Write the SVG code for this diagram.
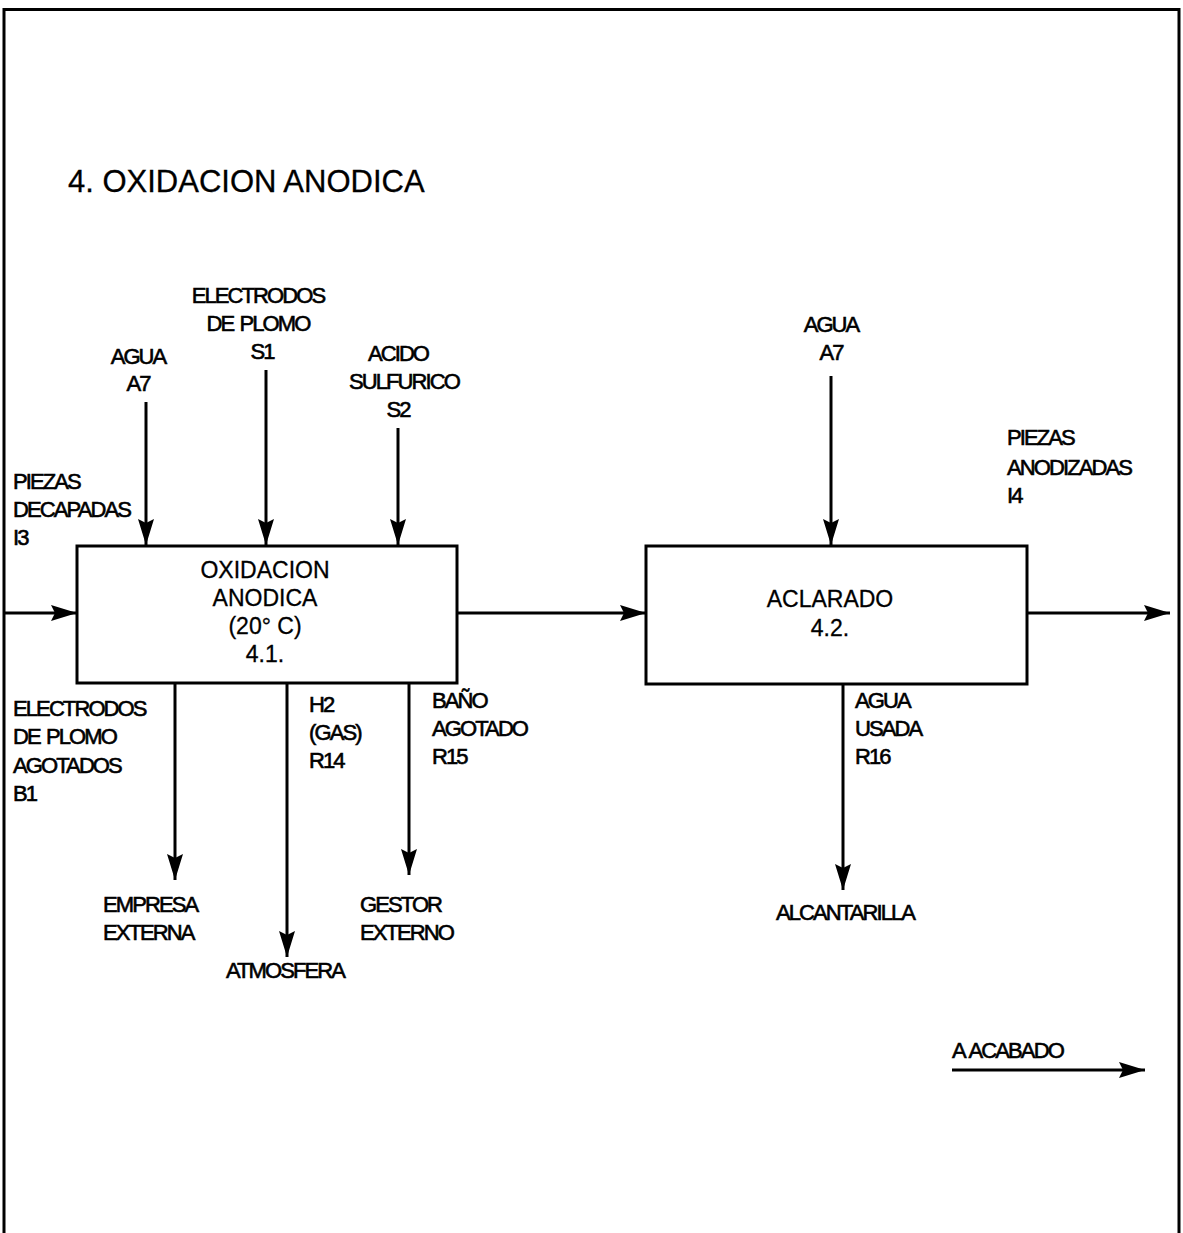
<svg xmlns="http://www.w3.org/2000/svg" width="1183" height="1233" viewBox="0 0 1183 1233">
<defs>
<style>
.lbl{font-family:"Liberation Sans",Arial,sans-serif;font-size:22px;letter-spacing:-1.9px;word-spacing:2px;fill:#000;stroke:#000;stroke-width:0.6}
.box{fill:#fff;stroke:#000;stroke-width:3}
.boxt{font-family:"Liberation Sans",Arial,sans-serif;font-size:23px;fill:#000;stroke:#000;stroke-width:0.3;text-anchor:middle}
.title{font-family:"Liberation Sans",Arial,sans-serif;font-size:31px;fill:#000;stroke:#000;stroke-width:0.3}
.c{text-anchor:middle}
.ln{stroke:#000;stroke-width:3;fill:none;marker-end:url(#ah)}
</style>
<marker id="ah" viewBox="0 0 26 16" refX="26" refY="8" markerWidth="26" markerHeight="16" markerUnits="userSpaceOnUse" orient="auto">
<path d="M0,0 L26,8 L0,16 L4,8 z" fill="#000"/>
</marker>
</defs>
<rect width="1183" height="1233" fill="#fff"/>
<path d="M4,1233 L4,9.5 L1179,9.5 L1179,1233" fill="none" stroke="#000" stroke-width="3"/>
<text class="title" x="68" y="192">4. OXIDACION ANODICA</text>

<g id="connectors">
<line class="ln" x1="4" y1="613" x2="77" y2="613"/>
<line class="ln" x1="457" y1="613" x2="646" y2="613"/>
<line class="ln" x1="1027" y1="613" x2="1170" y2="613"/>
<line class="ln" x1="146" y1="402" x2="146" y2="545"/>
<line class="ln" x1="266" y1="370" x2="266" y2="545"/>
<line class="ln" x1="398" y1="428" x2="398" y2="545"/>
<line class="ln" x1="831" y1="376" x2="831" y2="545"/>
<line class="ln" x1="175" y1="683" x2="175" y2="880"/>
<line class="ln" x1="287" y1="683" x2="287" y2="957"/>
<line class="ln" x1="409" y1="683" x2="409" y2="875"/>
<line class="ln" x1="843" y1="684" x2="843" y2="890"/>
<line class="ln" x1="952" y1="1070" x2="1145" y2="1070"/>
</g>

<g id="node-oxidacion">
<rect class="box" x="77" y="546" width="380" height="137"/>
<text class="boxt" x="265" y="578">OXIDACION</text>
<text class="boxt" x="265" y="606">ANODICA</text>
<text class="boxt" x="265" y="634">(20° C)</text>
<text class="boxt" x="265" y="662">4.1.</text>
</g>

<g id="node-aclarado">
<rect class="box" x="646" y="546" width="381" height="138"/>
<text class="boxt" x="830" y="607">ACLARADO</text>
<text class="boxt" x="830" y="636">4.2.</text>
</g>

<g id="label-agua1">
<text class="lbl c" x="138" y="364">AGUA</text>
<text class="lbl c" x="138" y="391">A7</text>
</g>
<g id="label-electrodos-s1">
<text class="lbl c" x="258" y="303">ELECTRODOS</text>
<text class="lbl c" x="258" y="331">DE PLOMO</text>
<text class="lbl c" x="262" y="359">S1</text>
</g>
<g id="label-acido">
<text class="lbl c" x="398" y="361">ACIDO</text>
<text class="lbl c" x="404" y="389">SULFURICO</text>
<text class="lbl c" x="398" y="417">S2</text>
</g>
<g id="label-piezas-decapadas">
<text class="lbl" x="13" y="489">PIEZAS</text>
<text class="lbl" x="13" y="517">DECAPADAS</text>
<text class="lbl" x="13" y="545">I3</text>
</g>
<g id="label-electrodos-b1">
<text class="lbl" x="13" y="716">ELECTRODOS</text>
<text class="lbl" x="13" y="744">DE PLOMO</text>
<text class="lbl" x="13" y="773">AGOTADOS</text>
<text class="lbl" x="13" y="801">B1</text>
</g>
<g id="label-h2">
<text class="lbl" x="309" y="712">H2</text>
<text class="lbl" x="309" y="740">(GAS)</text>
<text class="lbl" x="309" y="768">R14</text>
</g>
<g id="label-bano">
<text class="lbl" x="432" y="708">BAÑO</text>
<text class="lbl" x="432" y="736">AGOTADO</text>
<text class="lbl" x="432" y="764">R15</text>
</g>
<g id="label-empresa">
<text class="lbl" x="103" y="912">EMPRESA</text>
<text class="lbl" x="103" y="940">EXTERNA</text>
</g>
<g id="label-atmosfera">
<text class="lbl c" x="285" y="978">ATMOSFERA</text>
</g>
<g id="label-gestor">
<text class="lbl" x="360" y="912">GESTOR</text>
<text class="lbl" x="360" y="940">EXTERNO</text>
</g>
<g id="label-agua2">
<text class="lbl c" x="831" y="332">AGUA</text>
<text class="lbl c" x="831" y="360">A7</text>
</g>
<g id="label-piezas-anodizadas">
<text class="lbl" x="1007" y="445">PIEZAS</text>
<text class="lbl" x="1007" y="475">ANODIZADAS</text>
<text class="lbl" x="1007" y="503">I4</text>
</g>
<g id="label-agua-usada">
<text class="lbl" x="855" y="708">AGUA</text>
<text class="lbl" x="855" y="736">USADA</text>
<text class="lbl" x="855" y="764">R16</text>
</g>
<g id="label-alcantarilla">
<text class="lbl c" x="845" y="920">ALCANTARILLA</text>
</g>
<g id="label-acabado">
<text class="lbl" x="952" y="1058">A ACABADO</text>
</g>
</svg>
